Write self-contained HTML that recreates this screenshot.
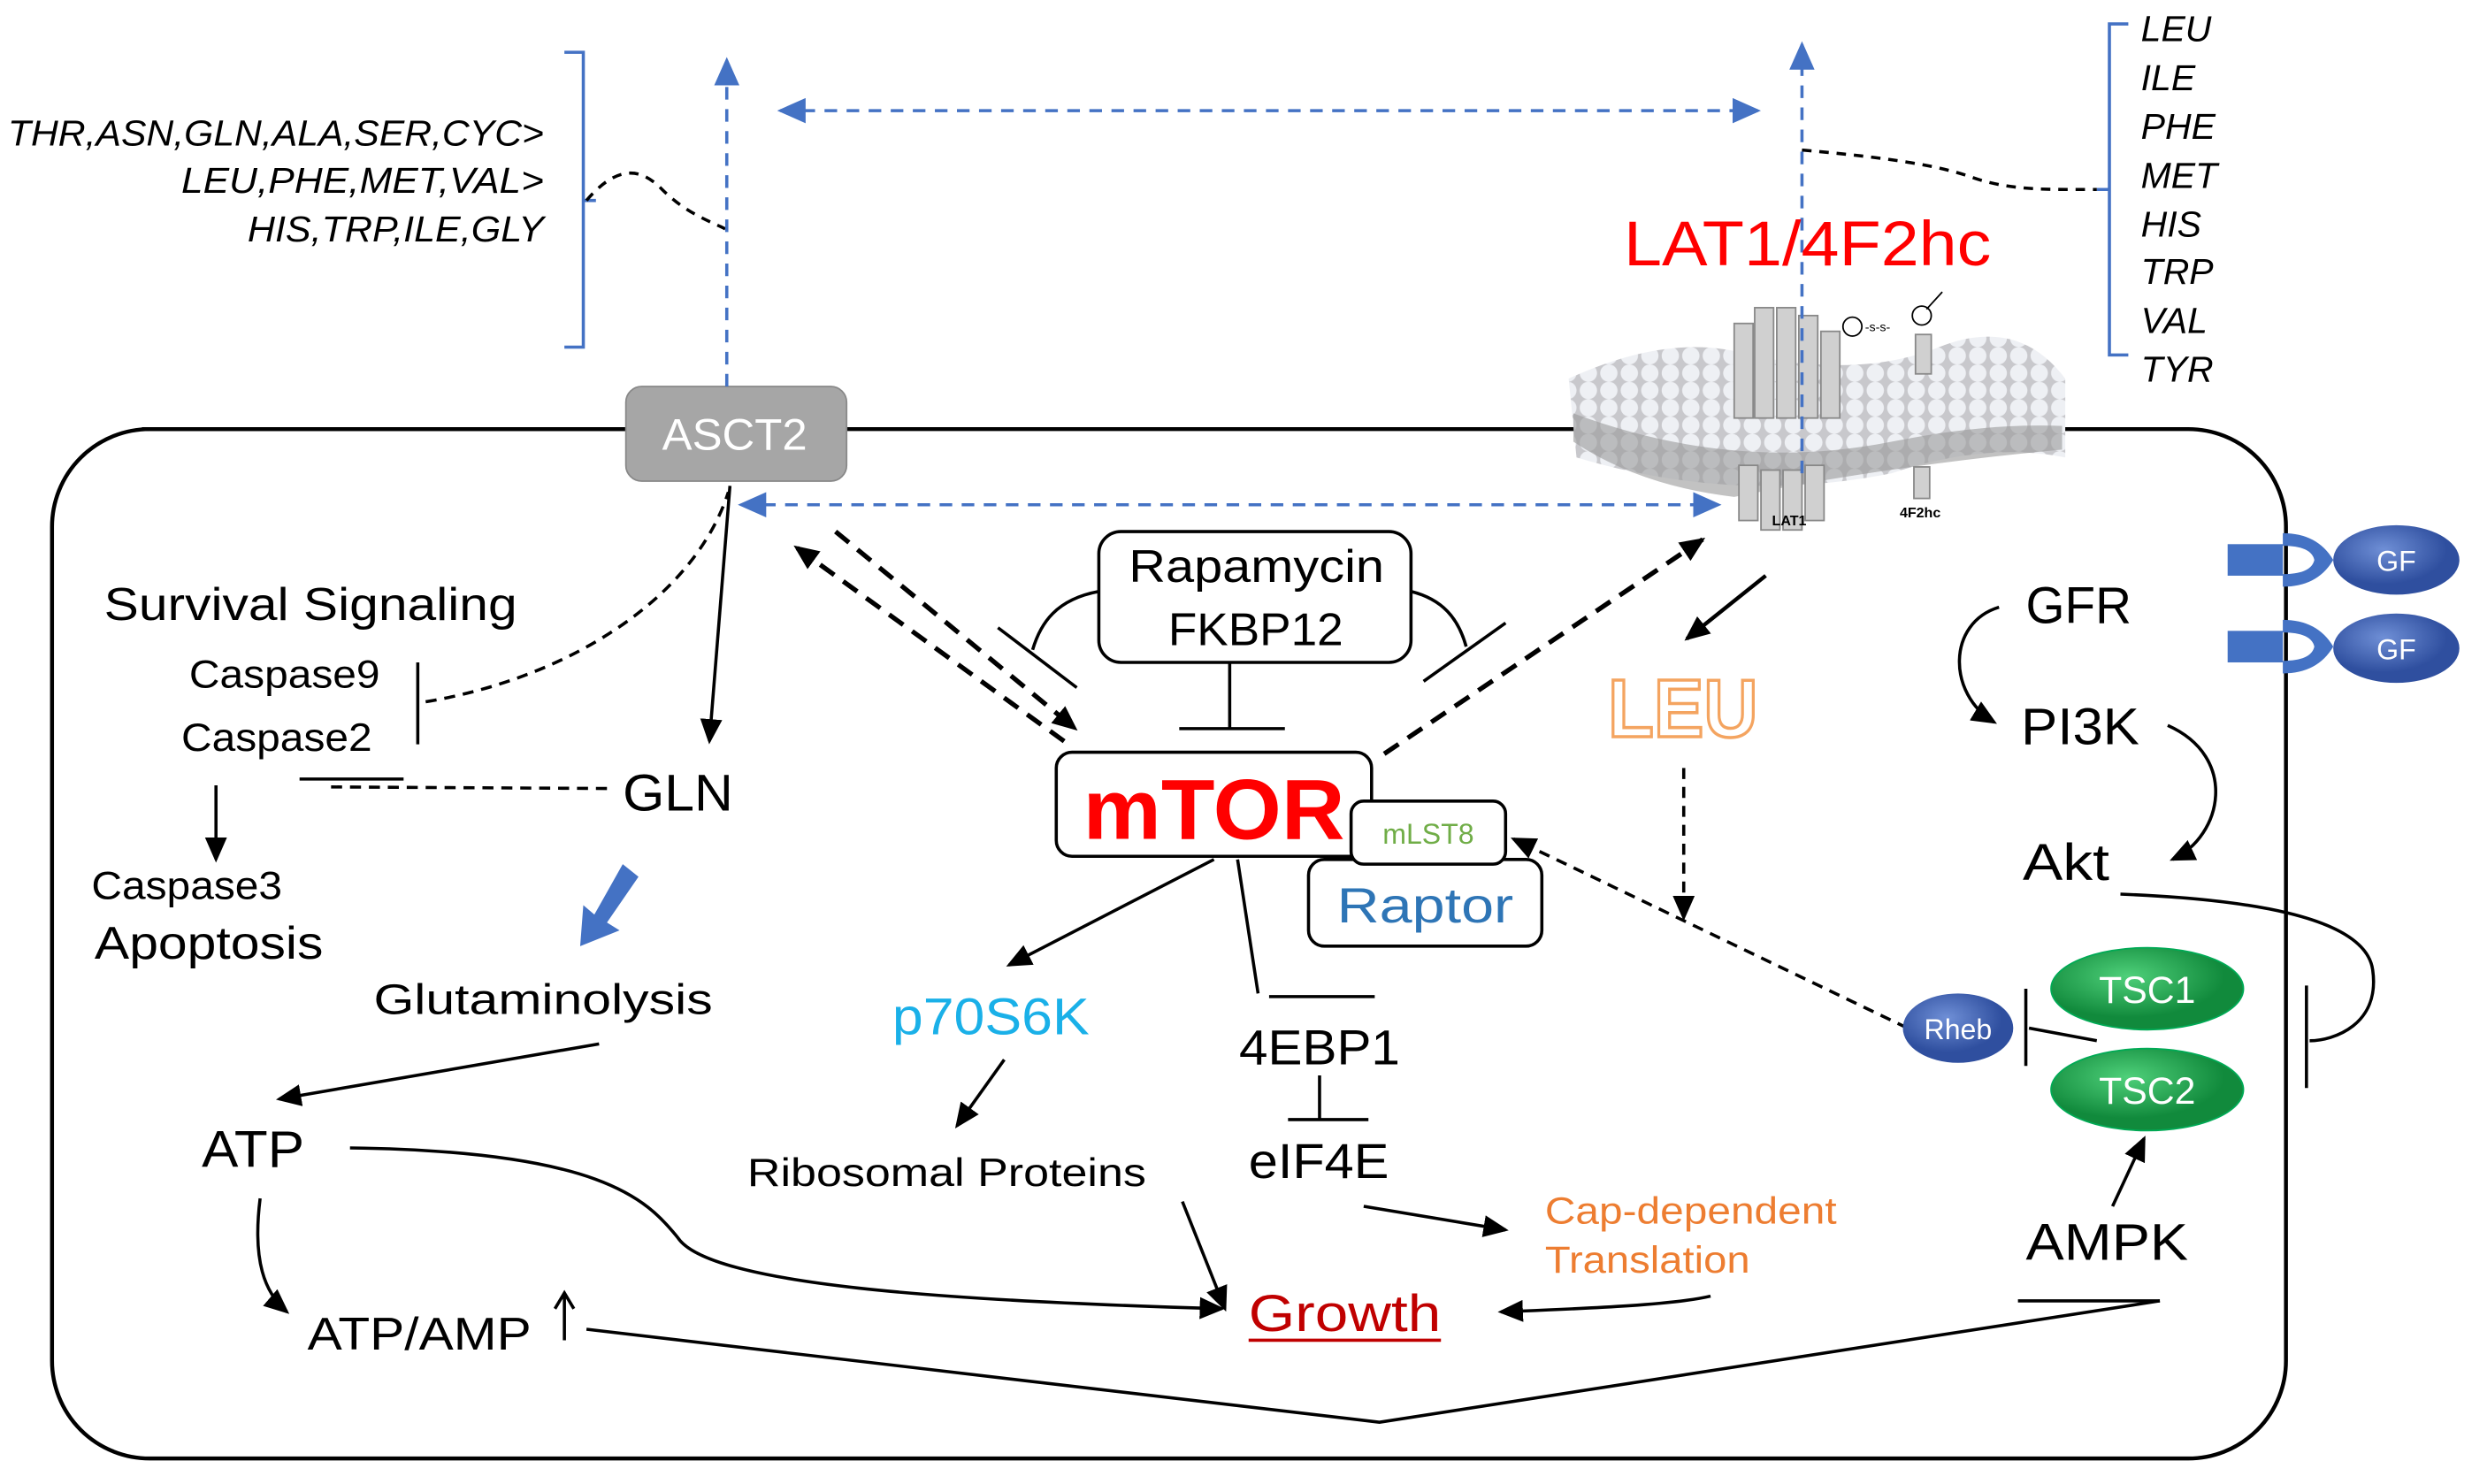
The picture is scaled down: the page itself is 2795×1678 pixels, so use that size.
<!DOCTYPE html>
<html><head><meta charset="utf-8"><style>html,body{margin:0;padding:0;background:#fff}svg{display:block}text{font-family:"Liberation Sans",sans-serif}</style></head><body>
<svg width="2795" height="1678" viewBox="0 0 1568 941" xmlns="http://www.w3.org/2000/svg">
<defs>
<marker id="ak" markerWidth="16" markerHeight="14" refX="14" refY="7" orient="auto" markerUnits="userSpaceOnUse"><path d="M0,0 L16,7 L0,14 z" fill="#000"/></marker>
<marker id="ab2" markerWidth="18" markerHeight="16" refX="16" refY="8" orient="auto" markerUnits="userSpaceOnUse"><path d="M0,0 L18,8 L0,16 z" fill="#4472c4"/></marker>
<marker id="abs" markerWidth="18" markerHeight="16" refX="2" refY="8" orient="auto" markerUnits="userSpaceOnUse"><path d="M18,0 L0,8 L18,16 z" fill="#4472c4"/></marker>
<pattern id="lip" width="13" height="11" patternUnits="userSpaceOnUse"><rect width="13" height="11" fill="#c8c8cc"/><circle cx="6.5" cy="5.5" r="5.5" fill="#eef0f4"/></pattern>
<radialGradient id="gb" cx="40%" cy="35%"><stop offset="0" stop-color="#6f8fd6"/><stop offset="1" stop-color="#2f4f9f"/></radialGradient>
<radialGradient id="gg" cx="40%" cy="35%"><stop offset="0" stop-color="#4fd07a"/><stop offset="1" stop-color="#118a3c"/></radialGradient>
</defs>
<rect x="33" y="272" width="1417" height="653" rx="62" fill="none" stroke="#000" stroke-width="2.5"/>
<path d="M995,240 Q1060,210 1110,225 Q1180,240 1230,220 Q1280,200 1310,240 L1310,290 Q1260,280 1200,300 Q1100,320 1000,290 Z" fill="url(#lip)"/>
<path d="M998,262 Q1100,300 1200,280 Q1260,268 1308,270 L1308,285 Q1200,295 1100,315 Q1040,308 998,280Z" fill="#9a9a9a" opacity="0.6"/>
<g fill="#d0d0d0" stroke="#888" stroke-width="1">
<rect x="1100" y="205" width="12" height="60"/><rect x="1113" y="195" width="12" height="70"/><rect x="1127" y="195" width="12" height="70"/><rect x="1141" y="200" width="12" height="65"/><rect x="1155" y="210" width="12" height="55"/>
<rect x="1103" y="295" width="12" height="35"/><rect x="1117" y="298" width="12" height="38"/><rect x="1131" y="298" width="12" height="38"/><rect x="1145" y="295" width="12" height="35"/>
<rect x="1215" y="212" width="10" height="25"/><rect x="1214" y="296" width="10" height="20"/>
</g>
<text x="1124" y="333" font-size="9" font-family="Liberation Serif" font-weight="bold">LAT1</text>
<text x="1205" y="328" font-size="9" font-family="Liberation Serif" font-weight="bold">4F2hc</text>
<circle cx="1175" cy="207" r="6" fill="#fff" stroke="#000"/><circle cx="1219" cy="200" r="6" fill="#fff" stroke="#000"/>
<text x="1183" y="210" font-size="8">-s-s-</text>
<path d="M1222,196 L1232,185" stroke="#000"/>
<line x1="90" y1="272" x2="397" y2="272" stroke="#000" stroke-width="2.5"/>
<rect x="397" y="245" width="140" height="60" rx="10" fill="#a6a6a6" stroke="#888"/>
<text x="420" y="285" font-size="28" fill="#fff" textLength="92" lengthAdjust="spacingAndGlyphs">ASCT2</text>
<g font-style="italic" font-size="23">
<text x="5" y="92" textLength="340" lengthAdjust="spacingAndGlyphs">THR,ASN,GLN,ALA,SER,CYC&gt;</text>
<text x="115" y="122" textLength="230" lengthAdjust="spacingAndGlyphs">LEU,PHE,MET,VAL&gt;</text>
<text x="157" y="153" textLength="188" lengthAdjust="spacingAndGlyphs">HIS,TRP,ILE,GLY</text>
</g>
<path d="M358,33 H370 V220 H358 M370,127 H378" fill="none" stroke="#4472c4" stroke-width="2"/>
<path d="M372,127 C395,100 410,110 420,120 C435,135 450,140 460,145" fill="none" stroke="#000" stroke-width="2" stroke-dasharray="6,5"/>
<g font-style="italic" font-size="23">
<text x="1358" y="26">LEU</text><text x="1358" y="57">ILE</text><text x="1358" y="88">PHE</text><text x="1358" y="119">MET</text><text x="1358" y="150">HIS</text><text x="1358" y="180">TRP</text><text x="1358" y="211">VAL</text><text x="1358" y="242">TYR</text>
</g>
<path d="M1350,15 H1338 V225 H1350 M1338,120 H1330" fill="none" stroke="#4472c4" stroke-width="2"/>
<path d="M1143,95 C1200,100 1230,105 1250,112 C1275,121 1300,120 1330,120" fill="none" stroke="#000" stroke-width="2" stroke-dasharray="6,5"/>
<g stroke="#4472c4" stroke-width="2" stroke-dasharray="8,6" fill="none">
<line x1="461" y1="245" x2="461" y2="38" marker-end="url(#ab2)"/>
<line x1="1143" y1="300" x2="1143" y2="28" marker-end="url(#ab2)"/>
<line x1="495" y1="70" x2="1115" y2="70" marker-end="url(#ab2)" marker-start="url(#abs)"/>
<line x1="470" y1="320" x2="1090" y2="320" marker-end="url(#ab2)" marker-start="url(#abs)"/>
</g>
<text x="1030" y="168" font-size="40" fill="#ff0000" textLength="233" lengthAdjust="spacingAndGlyphs">LAT1/4F2hc</text>
<g fill="#4472c4">
<rect x="1413" y="345" width="35" height="20"/><path d="M1448,338 Q1470,338 1480,355 Q1470,372 1448,372 L1448,364 Q1466,364 1468,355 Q1466,346 1448,346Z"/>
<rect x="1413" y="400" width="35" height="20"/><path d="M1448,393 Q1470,393 1480,410 Q1470,427 1448,427 L1448,419 Q1466,419 1468,410 Q1466,401 1448,401Z"/>
</g>
<ellipse cx="1520" cy="355" rx="40" ry="22" fill="url(#gb)"/><text x="1520" y="362" font-size="18" fill="#fff" text-anchor="middle">GF</text>
<ellipse cx="1520" cy="411" rx="40" ry="22" fill="url(#gb)"/><text x="1520" y="418" font-size="18" fill="#fff" text-anchor="middle">GF</text>
<text x="66" y="393" font-size="29" textLength="262" lengthAdjust="spacingAndGlyphs">Survival Signaling</text>
<text x="120" y="436" font-size="25" textLength="121" lengthAdjust="spacingAndGlyphs">Caspase9</text>
<text x="115" y="476" font-size="25" textLength="121" lengthAdjust="spacingAndGlyphs">Caspase2</text>
<line x1="265" y1="420" x2="265" y2="472" stroke="#000" stroke-width="2"/>
<path d="M270,445 C360,430 440,380 462,312" fill="none" stroke="#000" stroke-width="2" stroke-dasharray="7,5"/>
<line x1="190" y1="494" x2="256" y2="494" stroke="#000" stroke-width="2"/>
<line x1="210" y1="499" x2="385" y2="500" stroke="#000" stroke-width="2" stroke-dasharray="7,5"/>
<line x1="137" y1="498" x2="137" y2="545" stroke="#000" stroke-width="2" marker-end="url(#ak)"/>
<text x="58" y="570" font-size="25" textLength="121" lengthAdjust="spacingAndGlyphs">Caspase3</text>
<text x="60" y="608" font-size="29" textLength="145" lengthAdjust="spacingAndGlyphs">Apoptosis</text>
<line x1="463" y1="308" x2="450" y2="470" stroke="#000" stroke-width="2" marker-end="url(#ak)"/>
<text x="395" y="514" font-size="33" textLength="70" lengthAdjust="spacingAndGlyphs">GLN</text>
<path d="M395,548 L405,556 L385,585 L393,590 L368,600 L370,574 L377,580Z" fill="#4472c4"/>
<text x="237" y="643" font-size="27" textLength="215" lengthAdjust="spacingAndGlyphs">Glutaminolysis</text>
<line x1="380" y1="662" x2="177" y2="697" stroke="#000" stroke-width="2" marker-end="url(#ak)"/>
<text x="128" y="740" font-size="33" textLength="65" lengthAdjust="spacingAndGlyphs">ATP</text>
<path d="M222,728 C380,730 410,760 430,785 C450,815 600,825 775,830" fill="none" stroke="#000" stroke-width="2" marker-end="url(#ak)"/>
<path d="M165,760 C160,800 168,820 182,832" fill="none" stroke="#000" stroke-width="2" marker-end="url(#ak)"/>
<text x="195" y="856" font-size="29" textLength="142" lengthAdjust="spacingAndGlyphs">ATP/AMP</text>
<path d="M358,850 V822 M352,830 L358,820 L364,830" fill="none" stroke="#000" stroke-width="2"/>
<path d="M372,843 L875,902 L1370,825" fill="none" stroke="#000" stroke-width="2"/>
<line x1="1280" y1="825" x2="1370" y2="825" stroke="#000" stroke-width="2"/>
<rect x="697" y="337" width="198" height="83" rx="14" fill="#fff" stroke="#000" stroke-width="2"/>
<text x="716" y="369" font-size="29" textLength="162" lengthAdjust="spacingAndGlyphs">Rapamycin</text>
<text x="741" y="409" font-size="29" textLength="111" lengthAdjust="spacingAndGlyphs">FKBP12</text>
<line x1="780" y1="420" x2="780" y2="462" stroke="#000" stroke-width="2"/>
<line x1="748" y1="462" x2="815" y2="462" stroke="#000" stroke-width="2"/>
<path d="M697,375 C670,380 660,395 655,412" fill="none" stroke="#000" stroke-width="2"/>
<line x1="633" y1="398" x2="683" y2="436" stroke="#000" stroke-width="2"/>
<path d="M895,375 C915,380 925,392 930,410" fill="none" stroke="#000" stroke-width="2"/>
<line x1="903" y1="432" x2="955" y2="395" stroke="#000" stroke-width="2"/>
<g stroke="#000" stroke-width="3" stroke-dasharray="11,7" fill="none">
<line x1="675" y1="470" x2="505" y2="347" marker-end="url(#ak)"/>
<line x1="530" y1="337" x2="682" y2="462" marker-end="url(#ak)"/>
<line x1="878" y1="478" x2="1080" y2="342" marker-end="url(#ak)"/>
</g>
<rect x="670" y="477" width="200" height="66" rx="10" fill="#fff" stroke="#000" stroke-width="2"/>
<text x="687" y="532" font-size="54" fill="#ff0000" font-weight="bold" textLength="166" lengthAdjust="spacingAndGlyphs">mTOR</text>
<rect x="830" y="545" width="148" height="55" rx="10" fill="#fff" stroke="#000" stroke-width="2"/>
<text x="848" y="585" font-size="31" fill="#2e75b6" textLength="112" lengthAdjust="spacingAndGlyphs">Raptor</text>
<rect x="857" y="508" width="98" height="40" rx="8" fill="#fff" stroke="#000" stroke-width="2"/>
<text x="906" y="535" font-size="18" fill="#70ad47" text-anchor="middle">mLST8</text>
<line x1="1120" y1="365" x2="1070" y2="405" stroke="#000" stroke-width="2.5" marker-end="url(#ak)"/>
<text x="1020" y="467" font-size="52" fill="#fff" stroke="#f4a460" stroke-width="2" font-weight="bold" textLength="95" lengthAdjust="spacingAndGlyphs">LEU</text>
<line x1="1068" y1="487" x2="1068" y2="582" stroke="#000" stroke-width="2" stroke-dasharray="7,5" marker-end="url(#ak)"/>
<line x1="1210" y1="652" x2="960" y2="532" stroke="#000" stroke-width="2" stroke-dasharray="7,5" marker-end="url(#ak)"/>
<line x1="770" y1="545" x2="640" y2="612" stroke="#000" stroke-width="2" marker-end="url(#ak)"/>
<text x="566" y="656" font-size="33" fill="#1ab0e8" textLength="125" lengthAdjust="spacingAndGlyphs">p70S6K</text>
<line x1="637" y1="672" x2="607" y2="714" stroke="#000" stroke-width="2" marker-end="url(#ak)"/>
<text x="474" y="752" font-size="25" textLength="253" lengthAdjust="spacingAndGlyphs">Ribosomal Proteins</text>
<line x1="750" y1="762" x2="777" y2="830" stroke="#000" stroke-width="2" marker-end="url(#ak)"/>
<path d="M785,545 L798,630" fill="none" stroke="#000" stroke-width="2"/>
<line x1="805" y1="632" x2="872" y2="632" stroke="#000" stroke-width="2"/>
<text x="786" y="675" font-size="31" textLength="102" lengthAdjust="spacingAndGlyphs">4EBP1</text>
<line x1="837" y1="682" x2="837" y2="710" stroke="#000" stroke-width="2"/>
<line x1="817" y1="710" x2="868" y2="710" stroke="#000" stroke-width="2"/>
<text x="792" y="747" font-size="31" textLength="89" lengthAdjust="spacingAndGlyphs">eIF4E</text>
<line x1="865" y1="765" x2="955" y2="780" stroke="#000" stroke-width="2" marker-end="url(#ak)"/>
<text x="980" y="776" font-size="24" fill="#ed7d31" textLength="185" lengthAdjust="spacingAndGlyphs">Cap-dependent</text>
<text x="980" y="807" font-size="24" fill="#ed7d31" textLength="130" lengthAdjust="spacingAndGlyphs">Translation</text>
<path d="M1085,822 C1060,828 1000,830 952,832" fill="none" stroke="#000" stroke-width="2" marker-end="url(#ak)"/>
<text x="792" y="844" font-size="33" fill="#c00000" textLength="122" lengthAdjust="spacingAndGlyphs">Growth</text>
<line x1="792" y1="850" x2="914" y2="850" stroke="#c00000" stroke-width="2"/>
<text x="1285" y="395" font-size="33" textLength="67" lengthAdjust="spacingAndGlyphs">GFR</text>
<path d="M1268,385 C1235,395 1235,440 1265,458" fill="none" stroke="#000" stroke-width="2" marker-end="url(#ak)"/>
<text x="1282" y="472" font-size="33" textLength="75" lengthAdjust="spacingAndGlyphs">PI3K</text>
<path d="M1375,460 C1420,480 1410,530 1378,545" fill="none" stroke="#000" stroke-width="2" marker-end="url(#ak)"/>
<text x="1283" y="558" font-size="33" textLength="55" lengthAdjust="spacingAndGlyphs">Akt</text>
<path d="M1345,567 C1420,570 1500,580 1505,615 C1510,650 1480,660 1465,660" fill="none" stroke="#000" stroke-width="2"/>
<line x1="1463" y1="625" x2="1463" y2="690" stroke="#000" stroke-width="2"/>
<ellipse cx="1242" cy="652" rx="35" ry="22" fill="url(#gb)"/><text x="1242" y="659" font-size="18" fill="#fff" text-anchor="middle">Rheb</text>
<line x1="1285" y1="627" x2="1285" y2="676" stroke="#000" stroke-width="2"/>
<line x1="1287" y1="652" x2="1330" y2="660" stroke="#000" stroke-width="2"/>
<ellipse cx="1362" cy="627" rx="61" ry="26" fill="url(#gg)" stroke="#0a5"/><text x="1362" y="636" font-size="24" fill="#fff" text-anchor="middle">TSC1</text>
<ellipse cx="1362" cy="691" rx="61" ry="26" fill="url(#gg)" stroke="#0a5"/><text x="1362" y="700" font-size="24" fill="#fff" text-anchor="middle">TSC2</text>
<line x1="1340" y1="765" x2="1360" y2="722" stroke="#000" stroke-width="2" marker-end="url(#ak)"/>
<text x="1285" y="799" font-size="33" textLength="103" lengthAdjust="spacingAndGlyphs">AMPK</text>
</svg>
</body></html>
